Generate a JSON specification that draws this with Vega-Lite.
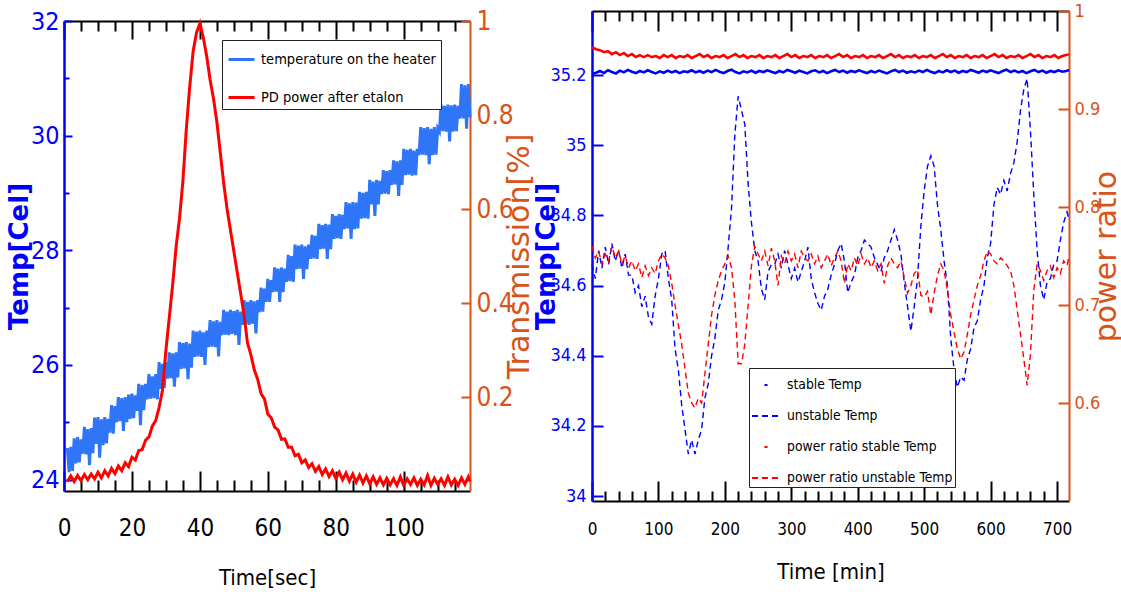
{
  "$schema": "https://vega.github.io/schema/vega-lite/v6.json",
  "padding": {"left": 6, "top": 2, "right": 2, "bottom": 2},
  "background": "white",
  "config": {
    "view": {"stroke": null},
    "font": "DejaVu Sans Condensed, Liberation Sans, sans-serif",
    "axis": {"grid": false, "labelFont": "DejaVu Sans Condensed, Liberation Sans, sans-serif", "titleFont": "DejaVu Sans Condensed, Liberation Sans, sans-serif", "labelOverlap": false, "labelFlush": false, "tickWidth": 2, "domainWidth": 2, "titleFontWeight": "normal", "labelBound": false},
    "legend": {"labelFont": "DejaVu Sans Condensed, Liberation Sans, sans-serif", "labelColor": "black"}
  },
  "datasets": {
    "heater": [
      {"t":1.0,"v":24.55},{"t":1.5,"v":24.13},{"t":2.0,"v":24.57},{"t":2.5,"v":24.15},{"t":3.0,"v":24.72},{"t":3.5,"v":24.28},{"t":4.0,"v":24.74},{"t":4.5,"v":24.3},{"t":5.0,"v":24.7},{"t":5.5,"v":24.45},
      {"t":6.0,"v":24.92},{"t":6.5,"v":24.44},{"t":7.0,"v":24.88},{"t":7.5,"v":24.25},{"t":8.0,"v":24.9},{"t":8.5,"v":24.46},{"t":9.0,"v":25.08},{"t":9.5,"v":24.62},{"t":10.0,"v":25.09},{"t":10.5,"v":24.38},
      {"t":11.0,"v":25.05},{"t":11.5,"v":24.6},{"t":12.0,"v":25.09},{"t":12.5,"v":24.63},{"t":13.0,"v":25.06},{"t":13.5,"v":24.82},{"t":14.0,"v":25.3},{"t":14.5,"v":24.8},{"t":15.0,"v":25.28},{"t":15.5,"v":25.0},
      {"t":16.0,"v":25.44},{"t":16.5,"v":25.02},{"t":17.0,"v":25.42},{"t":17.5,"v":24.85},{"t":18.0,"v":25.44},{"t":18.5,"v":25.0},{"t":19.0,"v":25.48},{"t":19.5,"v":25.06},{"t":20.0,"v":25.5},{"t":20.5,"v":25.07},
      {"t":21.0,"v":25.47},{"t":21.5,"v":25.2},{"t":22.0,"v":25.67},{"t":22.5,"v":24.95},{"t":23.0,"v":25.65},{"t":23.5,"v":25.21},{"t":24.0,"v":25.67},{"t":24.5,"v":25.4},{"t":25.0,"v":25.84},{"t":25.5,"v":25.41},
      {"t":26.0,"v":25.8},{"t":26.5,"v":25.42},{"t":27.0,"v":25.84},{"t":27.5,"v":25.4},{"t":28.0,"v":26.05},{"t":28.5,"v":25.58},{"t":29.0,"v":26.02},{"t":29.5,"v":25.6},{"t":30.0,"v":26.05},{"t":30.5,"v":25.76},
      {"t":31.0,"v":26.22},{"t":31.5,"v":25.77},{"t":32.0,"v":26.2},{"t":32.5,"v":25.62},{"t":33.0,"v":26.22},{"t":33.5,"v":25.78},{"t":34.0,"v":26.4},{"t":34.5,"v":25.93},{"t":35.0,"v":26.38},{"t":35.5,"v":25.94},
      {"t":36.0,"v":26.4},{"t":36.5,"v":25.75},{"t":37.0,"v":26.37},{"t":37.5,"v":25.95},{"t":38.0,"v":26.6},{"t":38.5,"v":26.14},{"t":39.0,"v":26.58},{"t":39.5,"v":26.15},{"t":40.0,"v":26.6},{"t":40.5,"v":26.14},
      {"t":41.0,"v":26.57},{"t":41.5,"v":26.0},{"t":42.0,"v":26.6},{"t":42.5,"v":26.31},{"t":43.0,"v":26.78},{"t":43.5,"v":26.32},{"t":44.0,"v":26.76},{"t":44.5,"v":26.31},{"t":45.0,"v":26.78},{"t":45.5,"v":26.15},
      {"t":46.0,"v":26.75},{"t":46.5,"v":26.52},{"t":47.0,"v":26.96},{"t":47.5,"v":26.53},{"t":48.0,"v":26.93},{"t":48.5,"v":26.52},{"t":49.0,"v":26.96},{"t":49.5,"v":26.54},{"t":50.0,"v":26.94},{"t":50.5,"v":26.52},
      {"t":51.0,"v":26.96},{"t":51.5,"v":26.35},{"t":52.0,"v":26.93},{"t":52.5,"v":26.7},{"t":53.0,"v":27.13},{"t":53.5,"v":26.71},{"t":54.0,"v":27.1},{"t":54.5,"v":26.7},{"t":55.0,"v":27.13},{"t":55.5,"v":26.72},
      {"t":56.0,"v":27.11},{"t":56.5,"v":26.55},{"t":57.0,"v":27.13},{"t":57.5,"v":26.92},{"t":58.0,"v":27.35},{"t":58.5,"v":26.93},{"t":59.0,"v":27.33},{"t":59.5,"v":27.1},{"t":60.0,"v":27.5},{"t":60.5,"v":27.1},
      {"t":61.0,"v":27.48},{"t":61.5,"v":27.27},{"t":62.0,"v":27.7},{"t":62.5,"v":27.28},{"t":63.0,"v":27.68},{"t":63.5,"v":27.1},{"t":64.0,"v":27.7},{"t":64.5,"v":27.27},{"t":65.0,"v":27.68},{"t":65.5,"v":27.45},
      {"t":66.0,"v":27.92},{"t":66.5,"v":27.46},{"t":67.0,"v":27.9},{"t":67.5,"v":27.45},{"t":68.0,"v":28.1},{"t":68.5,"v":27.67},{"t":69.0,"v":28.08},{"t":69.5,"v":27.68},{"t":70.0,"v":28.1},{"t":70.5,"v":27.5},
      {"t":71.0,"v":28.07},{"t":71.5,"v":27.67},{"t":72.0,"v":28.1},{"t":72.5,"v":27.85},{"t":73.0,"v":28.27},{"t":73.5,"v":27.86},{"t":74.0,"v":28.25},{"t":74.5,"v":27.85},{"t":75.0,"v":28.46},{"t":75.5,"v":28.02},
      {"t":76.0,"v":28.44},{"t":76.5,"v":28.03},{"t":77.0,"v":28.46},{"t":77.5,"v":27.85},{"t":78.0,"v":28.45},{"t":78.5,"v":28.02},{"t":79.0,"v":28.63},{"t":79.5,"v":28.2},{"t":80.0,"v":28.6},{"t":80.5,"v":28.21},
      {"t":81.0,"v":28.63},{"t":81.5,"v":28.2},{"t":82.0,"v":28.62},{"t":82.5,"v":28.37},{"t":83.0,"v":28.84},{"t":83.5,"v":28.38},{"t":84.0,"v":28.82},{"t":84.5,"v":28.2},{"t":85.0,"v":28.84},{"t":85.5,"v":28.37},
      {"t":86.0,"v":28.83},{"t":86.5,"v":28.38},{"t":87.0,"v":29.02},{"t":87.5,"v":28.55},{"t":88.0,"v":29.0},{"t":88.5,"v":28.56},{"t":89.0,"v":29.02},{"t":89.5,"v":28.55},{"t":90.0,"v":29.23},{"t":90.5,"v":28.8},
      {"t":91.0,"v":29.2},{"t":91.5,"v":28.6},{"t":92.0,"v":29.23},{"t":92.5,"v":28.8},{"t":93.0,"v":29.21},{"t":93.5,"v":28.98},{"t":94.0,"v":29.4},{"t":94.5,"v":28.99},{"t":95.0,"v":29.38},{"t":95.5,"v":28.98},
      {"t":96.0,"v":29.4},{"t":96.5,"v":29.14},{"t":97.0,"v":29.57},{"t":97.5,"v":29.15},{"t":98.0,"v":29.55},{"t":98.5,"v":28.95},{"t":99.0,"v":29.57},{"t":99.5,"v":29.14},{"t":100.0,"v":29.77},{"t":100.5,"v":29.31},
      {"t":101.0,"v":29.75},{"t":101.5,"v":29.32},{"t":102.0,"v":29.77},{"t":102.5,"v":29.3},{"t":103.0,"v":29.74},{"t":103.5,"v":29.31},{"t":104.0,"v":29.77},{"t":104.5,"v":29.66},{"t":105.0,"v":30.15},{"t":105.5,"v":29.67},
      {"t":106.0,"v":30.13},{"t":106.5,"v":29.66},{"t":107.0,"v":30.15},{"t":107.5,"v":29.5},{"t":108.0,"v":30.12},{"t":108.5,"v":29.66},{"t":109.0,"v":30.15},{"t":109.5,"v":29.67},{"t":110.0,"v":30.13},{"t":110.5,"v":30.07},
      {"t":111.0,"v":30.54},{"t":111.5,"v":30.08},{"t":112.0,"v":30.52},{"t":112.5,"v":30.07},{"t":113.0,"v":30.54},{"t":113.5,"v":29.9},{"t":114.0,"v":30.53},{"t":114.5,"v":30.07},{"t":115.0,"v":30.54},{"t":115.5,"v":30.08},
      {"t":116.0,"v":30.52},{"t":116.5,"v":30.3},{"t":117.0,"v":30.9},{"t":117.5,"v":30.3},{"t":118.0,"v":30.88},{"t":118.5,"v":30.12},{"t":119.0,"v":30.9},{"t":119.5,"v":30.32}
    ],
    "trans": [
      {"t":1,"v":0.02},{"t":2,"v":0.032},{"t":3,"v":0.02},{"t":4,"v":0.033},{"t":5,"v":0.022},{"t":6,"v":0.035},{"t":7,"v":0.024},{"t":8,"v":0.036},{"t":9,"v":0.026},{"t":10,"v":0.04},
      {"t":11,"v":0.028},{"t":12,"v":0.043},{"t":13,"v":0.032},{"t":14,"v":0.048},{"t":15,"v":0.037},{"t":16,"v":0.053},{"t":17,"v":0.043},{"t":18,"v":0.06},{"t":19,"v":0.052},{"t":20,"v":0.072},
      {"t":21,"v":0.066},{"t":22,"v":0.086},{"t":23,"v":0.088},{"t":24,"v":0.108},{"t":25,"v":0.115},{"t":26,"v":0.138},{"t":27,"v":0.15},{"t":28,"v":0.178},{"t":29,"v":0.215},{"t":30,"v":0.3},
      {"t":31,"v":0.37},{"t":32,"v":0.44},{"t":33,"v":0.52},{"t":34,"v":0.58},{"t":35,"v":0.66},{"t":36,"v":0.77},{"t":37,"v":0.86},{"t":38,"v":0.935},{"t":39,"v":0.975},{"t":40,"v":0.995},
      {"t":41,"v":0.965},{"t":42,"v":0.925},{"t":43,"v":0.875},{"t":44,"v":0.835},{"t":45,"v":0.785},{"t":46,"v":0.72},{"t":47,"v":0.655},{"t":48,"v":0.6},{"t":49,"v":0.555},{"t":50,"v":0.51},
      {"t":51,"v":0.465},{"t":52,"v":0.42},{"t":53,"v":0.375},{"t":54,"v":0.315},{"t":55,"v":0.29},{"t":56,"v":0.258},{"t":57,"v":0.238},{"t":58,"v":0.207},{"t":59,"v":0.196},{"t":60,"v":0.164},
      {"t":61,"v":0.156},{"t":62,"v":0.136},{"t":63,"v":0.13},{"t":64,"v":0.11},{"t":65,"v":0.111},{"t":66,"v":0.093},{"t":67,"v":0.093},{"t":68,"v":0.075},{"t":69,"v":0.078},{"t":70,"v":0.06},
      {"t":71,"v":0.066},{"t":72,"v":0.05},{"t":73,"v":0.058},{"t":74,"v":0.042},{"t":75,"v":0.052},{"t":76,"v":0.035},{"t":77,"v":0.047},{"t":78,"v":0.031},{"t":79,"v":0.043},{"t":80,"v":0.027},
      {"t":81,"v":0.04},{"t":82,"v":0.024},{"t":83,"v":0.038},{"t":84,"v":0.021},{"t":85,"v":0.036},{"t":86,"v":0.019},{"t":87,"v":0.034},{"t":88,"v":0.017},{"t":89,"v":0.032},{"t":90,"v":0.015},
      {"t":91,"v":0.03},{"t":92,"v":0.014},{"t":93,"v":0.028},{"t":94,"v":0.013},{"t":95,"v":0.027},{"t":96,"v":0.013},{"t":97,"v":0.026},{"t":98,"v":0.012},{"t":99,"v":0.03},{"t":100,"v":0.012},
      {"t":101,"v":0.026},{"t":102,"v":0.014},{"t":103,"v":0.028},{"t":104,"v":0.012},{"t":105,"v":0.025},{"t":106,"v":0.013},{"t":107,"v":0.033},{"t":108,"v":0.012},{"t":109,"v":0.027},{"t":110,"v":0.014},
      {"t":111,"v":0.026},{"t":112,"v":0.012},{"t":113,"v":0.03},{"t":114,"v":0.013},{"t":115,"v":0.025},{"t":116,"v":0.012},{"t":117,"v":0.028},{"t":118,"v":0.014},{"t":119,"v":0.03},{"t":119.5,"v":0.02}
    ],
    "stT": [
      {"t":0,"v":35.203},{"t":6,"v":35.207},{"t":12,"v":35.212},{"t":18,"v":35.206},{"t":24,"v":35.214},{"t":30,"v":35.209},{"t":36,"v":35.205},{"t":42,"v":35.213},{"t":48,"v":35.208},{"t":54,"v":35.215},
      {"t":60,"v":35.21},{"t":66,"v":35.206},{"t":72,"v":35.212},{"t":78,"v":35.208},{"t":84,"v":35.214},{"t":90,"v":35.209},{"t":96,"v":35.205},{"t":102,"v":35.211},{"t":108,"v":35.207},{"t":114,"v":35.213},
      {"t":120,"v":35.208},{"t":126,"v":35.212},{"t":132,"v":35.206},{"t":138,"v":35.211},{"t":144,"v":35.209},{"t":150,"v":35.214},{"t":156,"v":35.208},{"t":162,"v":35.212},{"t":168,"v":35.207},{"t":174,"v":35.213},
      {"t":180,"v":35.209},{"t":186,"v":35.215},{"t":192,"v":35.21},{"t":198,"v":35.206},{"t":204,"v":35.212},{"t":210,"v":35.216},{"t":216,"v":35.209},{"t":222,"v":35.205},{"t":228,"v":35.211},{"t":234,"v":35.208},
      {"t":240,"v":35.213},{"t":246,"v":35.207},{"t":252,"v":35.212},{"t":258,"v":35.209},{"t":264,"v":35.214},{"t":270,"v":35.21},{"t":276,"v":35.206},{"t":282,"v":35.212},{"t":288,"v":35.208},{"t":294,"v":35.215},
      {"t":300,"v":35.211},{"t":306,"v":35.207},{"t":312,"v":35.213},{"t":318,"v":35.209},{"t":324,"v":35.205},{"t":330,"v":35.211},{"t":336,"v":35.214},{"t":342,"v":35.208},{"t":348,"v":35.212},{"t":354,"v":35.206},
      {"t":360,"v":35.211},{"t":366,"v":35.215},{"t":372,"v":35.209},{"t":378,"v":35.213},{"t":384,"v":35.207},{"t":390,"v":35.212},{"t":396,"v":35.209},{"t":402,"v":35.214},{"t":408,"v":35.21},{"t":414,"v":35.206},
      {"t":420,"v":35.212},{"t":426,"v":35.208},{"t":432,"v":35.213},{"t":438,"v":35.209},{"t":444,"v":35.205},{"t":450,"v":35.211},{"t":456,"v":35.215},{"t":462,"v":35.209},{"t":468,"v":35.213},{"t":474,"v":35.207},
      {"t":480,"v":35.211},{"t":486,"v":35.208},{"t":492,"v":35.213},{"t":498,"v":35.209},{"t":504,"v":35.215},{"t":510,"v":35.21},{"t":516,"v":35.206},{"t":522,"v":35.212},{"t":528,"v":35.208},{"t":534,"v":35.214},
      {"t":540,"v":35.209},{"t":546,"v":35.213},{"t":552,"v":35.207},{"t":558,"v":35.212},{"t":564,"v":35.209},{"t":570,"v":35.215},{"t":576,"v":35.211},{"t":582,"v":35.207},{"t":588,"v":35.213},{"t":594,"v":35.209},
      {"t":600,"v":35.214},{"t":606,"v":35.21},{"t":612,"v":35.206},{"t":618,"v":35.212},{"t":624,"v":35.216},{"t":630,"v":35.209},{"t":636,"v":35.213},{"t":642,"v":35.208},{"t":648,"v":35.212},{"t":654,"v":35.206},
      {"t":660,"v":35.211},{"t":666,"v":35.215},{"t":672,"v":35.209},{"t":678,"v":35.213},{"t":684,"v":35.207},{"t":690,"v":35.212},{"t":696,"v":35.209},{"t":702,"v":35.214},{"t":708,"v":35.21},{"t":714,"v":35.212},{"t":718,"v":35.215}
    ],
    "unT": [
      {"t":0,"v":34.66},{"t":5,"v":34.62},{"t":10,"v":34.7},{"t":15,"v":34.65},{"t":20,"v":34.71},{"t":25,"v":34.66},{"t":30,"v":34.72},{"t":35,"v":34.67},{"t":40,"v":34.7},{"t":45,"v":34.65},
      {"t":50,"v":34.69},{"t":55,"v":34.63},{"t":60,"v":34.63},{"t":65,"v":34.58},{"t":70,"v":34.6},{"t":75,"v":34.54},{"t":80,"v":34.57},{"t":85,"v":34.51},{"t":90,"v":34.49},{"t":95,"v":34.57},
      {"t":100,"v":34.62},{"t":105,"v":34.69},{"t":110,"v":34.7},{"t":115,"v":34.62},{"t":120,"v":34.56},{"t":125,"v":34.42},{"t":130,"v":34.36},{"t":135,"v":34.26},{"t":140,"v":34.19},{"t":145,"v":34.12},
      {"t":150,"v":34.16},{"t":155,"v":34.12},{"t":160,"v":34.16},{"t":165,"v":34.19},{"t":170,"v":34.28},{"t":175,"v":34.32},{"t":180,"v":34.4},{"t":185,"v":34.45},{"t":190,"v":34.53},{"t":195,"v":34.56},
      {"t":200,"v":34.61},{"t":205,"v":34.71},{"t":210,"v":34.82},{"t":215,"v":35.03},{"t":220,"v":35.14},{"t":225,"v":35.1},{"t":230,"v":35.06},{"t":235,"v":34.89},{"t":240,"v":34.78},{"t":245,"v":34.7},
      {"t":250,"v":34.67},{"t":255,"v":34.59},{"t":260,"v":34.56},{"t":265,"v":34.64},{"t":270,"v":34.66},{"t":275,"v":34.66},{"t":280,"v":34.69},{"t":285,"v":34.65},{"t":290,"v":34.7},{"t":295,"v":34.66},
      {"t":300,"v":34.62},{"t":305,"v":34.65},{"t":310,"v":34.61},{"t":315,"v":34.64},{"t":320,"v":34.67},{"t":325,"v":34.71},{"t":330,"v":34.62},{"t":335,"v":34.58},{"t":340,"v":34.55},{"t":345,"v":34.53},
      {"t":350,"v":34.57},{"t":355,"v":34.59},{"t":360,"v":34.63},{"t":365,"v":34.66},{"t":370,"v":34.7},{"t":375,"v":34.72},{"t":380,"v":34.67},{"t":385,"v":34.58},{"t":390,"v":34.61},{"t":395,"v":34.63},
      {"t":400,"v":34.68},{"t":405,"v":34.7},{"t":410,"v":34.73},{"t":415,"v":34.72},{"t":420,"v":34.71},{"t":425,"v":34.68},{"t":430,"v":34.66},{"t":435,"v":34.64},{"t":440,"v":34.68},{"t":445,"v":34.7},
      {"t":450,"v":34.73},{"t":455,"v":34.76},{"t":460,"v":34.73},{"t":465,"v":34.69},{"t":470,"v":34.61},{"t":475,"v":34.54},{"t":480,"v":34.47},{"t":485,"v":34.54},{"t":490,"v":34.62},{"t":495,"v":34.77},
      {"t":500,"v":34.87},{"t":505,"v":34.94},{"t":510,"v":34.97},{"t":515,"v":34.94},{"t":520,"v":34.83},{"t":525,"v":34.76},{"t":530,"v":34.67},{"t":535,"v":34.6},{"t":540,"v":34.45},{"t":545,"v":34.36},
      {"t":550,"v":34.31},{"t":555,"v":34.34},{"t":560,"v":34.33},{"t":565,"v":34.39},{"t":570,"v":34.42},{"t":575,"v":34.48},{"t":580,"v":34.5},{"t":585,"v":34.56},{"t":590,"v":34.6},{"t":595,"v":34.68},
      {"t":600,"v":34.72},{"t":605,"v":34.83},{"t":610,"v":34.88},{"t":615,"v":34.86},{"t":620,"v":34.9},{"t":625,"v":34.87},{"t":630,"v":34.92},{"t":635,"v":34.95},{"t":640,"v":35.01},{"t":645,"v":35.1},
      {"t":650,"v":35.16},{"t":655,"v":35.19},{"t":660,"v":35.04},{"t":665,"v":34.86},{"t":670,"v":34.7},{"t":675,"v":34.6},{"t":680,"v":34.56},{"t":685,"v":34.61},{"t":690,"v":34.62},{"t":695,"v":34.66},
      {"t":700,"v":34.67},{"t":705,"v":34.73},{"t":710,"v":34.78},{"t":715,"v":34.81},{"t":718,"v":34.79}
    ],
    "stR": [
      {"t":0,"v":0.963},{"t":6,"v":0.961},{"t":12,"v":0.96},{"t":18,"v":0.958},{"t":24,"v":0.959},{"t":30,"v":0.956},{"t":36,"v":0.958},{"t":42,"v":0.955},{"t":48,"v":0.957},{"t":54,"v":0.954},
      {"t":60,"v":0.956},{"t":66,"v":0.953},{"t":72,"v":0.955},{"t":78,"v":0.953},{"t":84,"v":0.955},{"t":90,"v":0.953},{"t":96,"v":0.954},{"t":102,"v":0.952},{"t":108,"v":0.955},{"t":114,"v":0.953},
      {"t":120,"v":0.955},{"t":126,"v":0.952},{"t":132,"v":0.954},{"t":138,"v":0.953},{"t":144,"v":0.955},{"t":150,"v":0.952},{"t":156,"v":0.954},{"t":162,"v":0.956},{"t":168,"v":0.953},{"t":174,"v":0.955},
      {"t":180,"v":0.952},{"t":186,"v":0.954},{"t":192,"v":0.953},{"t":198,"v":0.955},{"t":204,"v":0.952},{"t":210,"v":0.954},{"t":216,"v":0.956},{"t":222,"v":0.953},{"t":228,"v":0.955},{"t":234,"v":0.952},
      {"t":240,"v":0.954},{"t":246,"v":0.953},{"t":252,"v":0.955},{"t":258,"v":0.952},{"t":264,"v":0.954},{"t":270,"v":0.953},{"t":276,"v":0.955},{"t":282,"v":0.952},{"t":288,"v":0.954},{"t":294,"v":0.956},
      {"t":300,"v":0.953},{"t":306,"v":0.955},{"t":312,"v":0.952},{"t":318,"v":0.954},{"t":324,"v":0.953},{"t":330,"v":0.955},{"t":336,"v":0.952},{"t":342,"v":0.954},{"t":348,"v":0.953},{"t":354,"v":0.955},
      {"t":360,"v":0.952},{"t":366,"v":0.954},{"t":372,"v":0.956},{"t":378,"v":0.953},{"t":384,"v":0.955},{"t":390,"v":0.952},{"t":396,"v":0.954},{"t":402,"v":0.953},{"t":408,"v":0.955},{"t":414,"v":0.952},
      {"t":420,"v":0.954},{"t":426,"v":0.953},{"t":432,"v":0.955},{"t":438,"v":0.952},{"t":444,"v":0.954},{"t":450,"v":0.956},{"t":456,"v":0.953},{"t":462,"v":0.955},{"t":468,"v":0.952},{"t":474,"v":0.954},
      {"t":480,"v":0.953},{"t":486,"v":0.955},{"t":492,"v":0.952},{"t":498,"v":0.954},{"t":504,"v":0.953},{"t":510,"v":0.955},{"t":516,"v":0.952},{"t":522,"v":0.954},{"t":528,"v":0.956},{"t":534,"v":0.953},
      {"t":540,"v":0.955},{"t":546,"v":0.952},{"t":552,"v":0.954},{"t":558,"v":0.953},{"t":564,"v":0.955},{"t":570,"v":0.952},{"t":576,"v":0.954},{"t":582,"v":0.953},{"t":588,"v":0.955},{"t":594,"v":0.952},
      {"t":600,"v":0.954},{"t":606,"v":0.956},{"t":612,"v":0.953},{"t":618,"v":0.955},{"t":624,"v":0.952},{"t":630,"v":0.954},{"t":636,"v":0.953},{"t":642,"v":0.955},{"t":648,"v":0.952},{"t":654,"v":0.954},
      {"t":660,"v":0.956},{"t":666,"v":0.953},{"t":672,"v":0.955},{"t":678,"v":0.952},{"t":684,"v":0.954},{"t":690,"v":0.953},{"t":696,"v":0.955},{"t":702,"v":0.952},{"t":708,"v":0.954},{"t":714,"v":0.955},{"t":718,"v":0.956}
    ],
    "unR": [
      {"t":0,"v":0.76},{"t":5,"v":0.748},{"t":10,"v":0.755},{"t":15,"v":0.742},{"t":20,"v":0.752},{"t":25,"v":0.745},{"t":30,"v":0.76},{"t":35,"v":0.748},{"t":40,"v":0.755},{"t":45,"v":0.742},
      {"t":50,"v":0.75},{"t":55,"v":0.738},{"t":60,"v":0.745},{"t":65,"v":0.735},{"t":70,"v":0.742},{"t":75,"v":0.728},{"t":80,"v":0.74},{"t":85,"v":0.73},{"t":90,"v":0.738},{"t":95,"v":0.732},
      {"t":100,"v":0.745},{"t":105,"v":0.752},{"t":110,"v":0.748},{"t":115,"v":0.74},{"t":120,"v":0.722},{"t":125,"v":0.7},{"t":130,"v":0.68},{"t":135,"v":0.66},{"t":140,"v":0.635},{"t":145,"v":0.61},
      {"t":150,"v":0.6},{"t":155,"v":0.595},{"t":160,"v":0.605},{"t":165,"v":0.6},{"t":170,"v":0.63},{"t":175,"v":0.66},{"t":180,"v":0.69},{"t":185,"v":0.71},{"t":190,"v":0.725},{"t":195,"v":0.735},
      {"t":200,"v":0.742},{"t":205,"v":0.75},{"t":210,"v":0.738},{"t":215,"v":0.705},{"t":220,"v":0.64},{"t":225,"v":0.64},{"t":230,"v":0.66},{"t":235,"v":0.7},{"t":240,"v":0.74},{"t":245,"v":0.76},
      {"t":250,"v":0.752},{"t":255,"v":0.745},{"t":260,"v":0.755},{"t":265,"v":0.74},{"t":270,"v":0.758},{"t":275,"v":0.745},{"t":280,"v":0.72},{"t":285,"v":0.75},{"t":290,"v":0.742},{"t":295,"v":0.755},
      {"t":300,"v":0.745},{"t":305,"v":0.752},{"t":310,"v":0.738},{"t":315,"v":0.755},{"t":320,"v":0.748},{"t":325,"v":0.745},{"t":330,"v":0.752},{"t":335,"v":0.742},{"t":340,"v":0.75},{"t":345,"v":0.738},
      {"t":350,"v":0.745},{"t":355,"v":0.752},{"t":360,"v":0.74},{"t":365,"v":0.748},{"t":370,"v":0.755},{"t":375,"v":0.745},{"t":380,"v":0.722},{"t":385,"v":0.742},{"t":390,"v":0.735},{"t":395,"v":0.748},
      {"t":400,"v":0.74},{"t":405,"v":0.752},{"t":410,"v":0.742},{"t":415,"v":0.748},{"t":420,"v":0.738},{"t":425,"v":0.745},{"t":430,"v":0.735},{"t":435,"v":0.742},{"t":440,"v":0.722},{"t":445,"v":0.74},
      {"t":450,"v":0.748},{"t":455,"v":0.742},{"t":460,"v":0.738},{"t":465,"v":0.745},{"t":470,"v":0.728},{"t":475,"v":0.712},{"t":480,"v":0.72},{"t":485,"v":0.732},{"t":490,"v":0.736},{"t":495,"v":0.71},
      {"t":500,"v":0.708},{"t":505,"v":0.714},{"t":510,"v":0.69},{"t":515,"v":0.712},{"t":520,"v":0.73},{"t":525,"v":0.742},{"t":530,"v":0.735},{"t":535,"v":0.715},{"t":540,"v":0.69},{"t":545,"v":0.672},
      {"t":550,"v":0.655},{"t":555,"v":0.645},{"t":560,"v":0.652},{"t":565,"v":0.67},{"t":570,"v":0.69},{"t":575,"v":0.705},{"t":580,"v":0.72},{"t":585,"v":0.73},{"t":590,"v":0.745},{"t":595,"v":0.755},
      {"t":600,"v":0.752},{"t":605,"v":0.745},{"t":610,"v":0.742},{"t":615,"v":0.748},{"t":620,"v":0.745},{"t":625,"v":0.74},{"t":630,"v":0.735},{"t":635,"v":0.72},{"t":640,"v":0.695},{"t":645,"v":0.67},
      {"t":650,"v":0.645},{"t":655,"v":0.618},{"t":660,"v":0.65},{"t":665,"v":0.715},{"t":670,"v":0.742},{"t":675,"v":0.735},{"t":680,"v":0.725},{"t":685,"v":0.735},{"t":690,"v":0.74},{"t":695,"v":0.728},
      {"t":700,"v":0.738},{"t":705,"v":0.732},{"t":710,"v":0.745},{"t":715,"v":0.74},{"t":718,"v":0.75}
    ]
  },
  "hconcat": [
    {
      "width": 406,
      "height": 470,
      "layer": [
        {
          "data": {"name": "heater"},
          "mark": {"type": "line", "strokeWidth": 3},
          "encoding": {
            "x": {"field": "t", "type": "quantitative", "scale": {"domain": [0, 119.5], "nice": false, "zero": false},
              "axis": {"orient": "bottom", "values": [0,5,10,15,20,25,30,35,40,45,50,55,60,65,70,75,80,85,90,95,100,105,110,115],
                "labelExpr": "datum.value % 20 === 0 ? datum.label : ''", "format": "d",
                "tickSize": {"condition": {"test": "datum.value % 20 === 0", "value": -20}, "value": -11},
                "labelPadding": 45, "labelFontSize": 24, "labelColor": "black", "domainColor": "black", "tickColor": "black",
                "title": "Time[sec]", "titleFontSize": 22, "titleColor": "black", "titleY": 86, "titleBaseline": "middle"}},
            "y": {"field": "v", "type": "quantitative", "scale": {"domain": [23.8, 32], "nice": false, "zero": false},
              "axis": {"orient": "left", "values": [24,24.5,25,25.5,26,26.5,27,27.5,28,28.5,29,29.5,30,30.5,31,31.5,32],
                "labelExpr": "datum.value % 2 === 0 ? datum.label : ''", "format": "d",
                "tickSize": {"condition": {"test": "datum.value % 2 === 0", "value": -8}, "value": -5},
                "labelPadding": 13, "labelFontSize": 25, "labelColor": "#0000FF", "domainColor": "#0000FF", "domainWidth": 2.5, "tickColor": "#0000FF",
                "title": "Temp[Cel]", "titleFont": "DejaVu Sans", "titleFontWeight": "bold", "titleFontSize": 26, "titleColor": "#0000FF",
                "titleAngle": -90, "titleX": -45, "titleBaseline": "middle"}},
            "color": {"datum": "temperature on the heater", "type": "nominal",
              "scale": {"domain": ["temperature on the heater", "PD power after etalon"], "range": ["#2E75F8", "#FF0000"]},
              "legend": {"orient": "none", "legendX": 158, "legendY": 19, "title": null, "symbolType": "stroke", "symbolSize": 676,
                "symbolStrokeWidth": 3, "labelFontSize": 14.5, "labelLimit": 400, "rowPadding": 17, "padding": 5, "labelOffset": 5,
                "strokeColor": "#222222", "fillColor": "white"}}
          }
        },
        {
          "data": {"name": "trans"},
          "mark": {"type": "line", "strokeWidth": 3},
          "encoding": {
            "x": {"field": "t", "type": "quantitative",
              "axis": {"orient": "top", "values": [0,5,10,15,20,25,30,35,40,45,50,55,60,65,70,75,80,85,90,95,100,105,110,115],
                "labels": false, "title": null, "domainColor": "black", "tickColor": "black",
                "tickSize": {"condition": {"test": "datum.value % 20 === 0", "value": -18}, "value": -10}}},
            "y": {"field": "v", "type": "quantitative", "scale": {"domain": [0, 1], "nice": false, "zero": false},
              "axis": {"orient": "right", "values": [0.2,0.4,0.6,0.8,1], "format": "~g", "tickSize": -9, "labelPadding": 15,
                "labelFontSize": 26, "labelColor": "#D95319", "domainColor": "#D95319", "tickColor": "#D95319",
                "title": "Transmission[%]", "titleFont": "DejaVu Sans", "titleFontSize": 30, "titleColor": "#D95319",
                "titleAngle": -90, "titleX": 49, "titleBaseline": "middle"}},
            "color": {"datum": "PD power after etalon", "type": "nominal"}
          }
        }
      ],
      "resolve": {"scale": {"y": "independent"}}
    },
    {
      "width": 477,
      "height": 490,
      "layer": [
        {
          "encoding": {
            "x": {"field": "t", "type": "quantitative", "scale": {"domain": [0, 718], "nice": false, "zero": false},
              "axis": {"orient": "bottom", "values": [0,20,40,60,80,100,120,140,160,180,200,220,240,260,280,300,320,340,360,380,400,420,440,460,480,500,520,540,560,580,600,620,640,660,680,700],
                "labelExpr": "datum.value % 100 === 0 ? datum.label : ''", "format": "d",
                "tickSize": {"condition": {"test": "datum.value % 100 === 0", "value": -20}, "value": -10},
                "labelPadding": 40, "labelFontSize": 17, "labelColor": "black", "domainColor": "black", "tickColor": "black",
                "title": "Time [min]", "titleFontSize": 22, "titleColor": "black", "titleY": 70, "titleBaseline": "middle"}},
            "y": {"field": "v", "type": "quantitative", "scale": {"domain": [33.986, 35.383], "nice": false, "zero": false},
              "axis": {"orient": "left", "values": [34, 34.2, 34.4, 34.6, 34.8, 35, 35.2], "format": "~g",
                "tickSize": -11, "labelPadding": 17, "labelFontSize": 18, "labelColor": "#0000FF", "domainColor": "#0000FF", "domainWidth": 2.5, "tickColor": "#0000FF",
                "title": "Temp[Cel]", "titleFont": "DejaVu Sans", "titleFontWeight": "bold", "titleFontSize": 26, "titleColor": "#0000FF",
                "titleAngle": -90, "titleX": -46, "titleBaseline": "middle"}}
          },
          "layer": [
            {
              "data": {"name": "stT"},
              "mark": {"type": "line", "strokeWidth": 2.6},
              "encoding": {
                "color": {"datum": "stable Temp", "type": "nominal",
                  "scale": {"domain": ["stable Temp", "unstable Temp", "power ratio stable Temp", "power ratio unstable Temp"], "range": ["#0000FF", "#0000FF", "#FF0000", "#FF0000"]},
                  "legend": {"orient": "none", "legendX": 157, "legendY": 357, "title": null, "symbolType": "stroke", "symbolSize": 784,
                    "symbolStrokeWidth": 2, "labelFontSize": 13.8, "labelLimit": 400, "rowPadding": 9, "padding": 2, "labelOffset": 6,
                    "strokeColor": "#222222", "fillColor": "white"}}
              }
            },
            {
              "data": {"name": "unT"},
              "mark": {"type": "line", "strokeWidth": 1.4},
              "encoding": {
                "color": {"datum": "unstable Temp", "type": "nominal"},
                "strokeDash": {"datum": "unstable Temp", "type": "nominal",
                  "scale": {"domain": ["stable Temp", "unstable Temp", "power ratio stable Temp", "power ratio unstable Temp"], "range": [[0, 12.5, 3, 1000], [6, 4], [0, 12.5, 3, 1000], [6, 4]]},
                  "legend": {"orient": "none", "legendX": 157, "legendY": 357, "title": null, "symbolType": "stroke", "symbolSize": 784,
                    "symbolStrokeWidth": 2, "labelFontSize": 13.8, "labelLimit": 400, "rowPadding": 9, "padding": 2, "labelOffset": 6,
                    "strokeColor": "#222222", "fillColor": "white"}}
              }
            }
          ]
        },
        {
          "encoding": {
            "x": {"field": "t", "type": "quantitative",
              "axis": {"orient": "top", "values": [0,20,40,60,80,100,120,140,160,180,200,220,240,260,280,300,320,340,360,380,400,420,440,460,480,500,520,540,560,580,600,620,640,660,680,700],
                "labels": false, "title": null, "domainColor": "black", "tickColor": "black",
                "tickSize": {"condition": {"test": "datum.value % 100 === 0", "value": -20}, "value": -10}}},
            "y": {"field": "v", "type": "quantitative", "scale": {"domain": [0.5, 1], "nice": false, "zero": false},
              "axis": {"orient": "right", "values": [0.6, 0.7, 0.8, 0.9, 1], "format": "~g", "tickSize": -11, "labelPadding": 16,
                "labelFontSize": 18, "labelColor": "#D95319", "domainColor": "#D95319", "tickColor": "#D95319",
                "title": "power ratio", "titleFont": "DejaVu Sans", "titleFontSize": 30, "titleColor": "#D95319",
                "titleAngle": -90, "titleX": 37, "titleBaseline": "middle"}}
          },
          "layer": [
            {
              "data": {"name": "stR"},
              "mark": {"type": "line", "strokeWidth": 2.6},
              "encoding": {"color": {"datum": "power ratio stable Temp", "type": "nominal"}}
            },
            {
              "data": {"name": "unR"},
              "mark": {"type": "line", "strokeWidth": 1.4},
              "encoding": {
                "color": {"datum": "power ratio unstable Temp", "type": "nominal"},
                "strokeDash": {"datum": "power ratio unstable Temp", "type": "nominal"}
              }
            }
          ]
        }
      ],
      "resolve": {"scale": {"y": "independent"}}
    }
  ],
  "spacing": 122,
  "bounds": "flush",
  "center": true,
  "resolve": {"scale": {"color": "independent", "strokeDash": "independent"}}
}
